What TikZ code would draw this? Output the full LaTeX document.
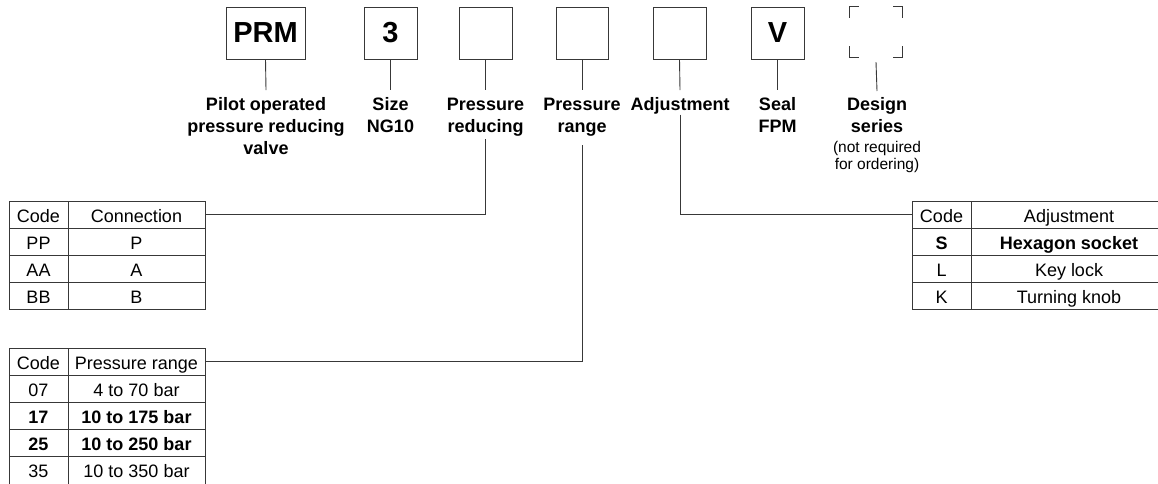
\documentclass[tikz,border=0pt]{standalone}
\usepackage{fontspec}
\setmainfont{Liberation Sans}
\definecolor{lncol}{gray}{0.22}
\begin{document}
\begin{tikzpicture}[x=1pt,y=-1pt,
  ln/.style={draw=lncol, line width=0.9pt},
  codebox/.style={ln, rectangle, inner sep=0pt, minimum height=52pt, font=\fontsize{29}{33}\selectfont\bfseries},
  lbl/.style={anchor=north, inner sep=0pt, align=center, font=\fontsize{18}{22}\selectfont\bfseries},
  note/.style={anchor=north, inner sep=0pt, align=center, font=\fontsize{15.5}{17}\selectfont},
  cell/.style={ln, rectangle, inner sep=0pt, text height=15pt, text depth=0pt, font=\fontsize{18}{22}\selectfont},
  bcell/.style={cell, font=\fontsize{18}{22}\selectfont\bfseries},
  conn/.style={draw=lncol, line width=0.9pt}
]
\useasboundingbox (0,0) rectangle (1158,483);

% code boxes
\node[codebox, minimum width=79pt] (bPRM) at (265.5,33) {PRM};
\node[codebox, minimum width=53pt] (b3) at (390.5,33) {3};
\node[codebox, minimum width=53pt] (bRed) at (485.5,33) {};
\node[codebox, minimum width=52pt] (bRng) at (582,33) {};
\node[codebox, minimum width=53pt] (bAdj) at (679.5,33) {};
\node[codebox, minimum width=53pt] (bV) at (777.5,33) {V};
\node[inner sep=0pt, minimum width=52pt, minimum height=50pt] (bDes) at (876,32) {};
\draw[conn] ([yshift=-11pt]bDes.north west) -- (bDes.north west) -- ([xshift=9pt]bDes.north west);
\draw[conn] ([yshift=-11pt]bDes.north east) -- (bDes.north east) -- ([xshift=-9pt]bDes.north east);
\draw[conn] ([yshift=11pt]bDes.south west) -- (bDes.south west) -- ([xshift=9pt]bDes.south west);
\draw[conn] ([yshift=11pt]bDes.south east) -- (bDes.south east) -- ([xshift=-9pt]bDes.south east);

% labels
\node[lbl] (lPRM) at (266,97.5) {Pilot operated\\pressure reducing\\valve};
\node[lbl] (l3) at (390.5,97.5) {Size\\NG10};
\node[lbl] (lRed) at (485.5,97.5) {Pressure\\reducing};
\node[lbl] (lRng) at (582,97.5) {Pressure\\range};
\node[lbl] (lAdj) at (680,97.5) {Adjustment};
\node[lbl] (lV) at (777.5,97.5) {Seal\\FPM};
\node[lbl] (lDes) at (877,97.5) {Design\\series};
\node[note] (lDesN) at (877,141.4) {(not required\\for ordering)};

% box-to-label lines
\draw[conn] (bPRM.south) -- ([yshift=7.5pt]lPRM.north);
\draw[conn] (b3.south) -- ([yshift=7.5pt]l3.north);
\draw[conn] (bRed.south) -- ([yshift=7.5pt]lRed.north);
\draw[conn] (bRng.south) -- ([yshift=7.5pt]lRng.north);
\draw[conn] (bAdj.south) -- ([yshift=7.5pt]lAdj.north);
\draw[conn] (bV.south) -- ([yshift=7.5pt]lV.north);
\draw[conn] ([yshift=-5pt]bDes.south) -- ([yshift=6.5pt]lDes.north);

% table 1: connection
\begin{scope}[every node/.append style={minimum height=27pt}]
\node[cell, minimum width=59pt] (t1h1) at (38.5,214.5) {Code};
\node[cell, minimum width=137pt] (t1h2) at (136.5,214.5) {Connection};
\node[cell, minimum width=59pt] (t1a1) at (38.5,241.5) {PP};
\node[cell, minimum width=137pt] (t1a2) at (136.5,241.5) {P};
\node[cell, minimum width=59pt] (t1b1) at (38.5,268.5) {AA};
\node[cell, minimum width=137pt] (t1b2) at (136.5,268.5) {A};
\node[cell, minimum width=59pt] (t1c1) at (38.5,295.5) {BB};
\node[cell, minimum width=137pt] (t1c2) at (136.5,295.5) {B};
\end{scope}

% table 2: pressure range
\begin{scope}[every node/.append style={minimum height=27.2pt}]
\node[cell, minimum width=59pt] (t2h1) at (38.5,361.6) {Code};
\node[cell, minimum width=137pt] (t2h2) at (136.5,361.6) {Pressure range};
\node[cell, minimum width=59pt] (t2a1) at (38.5,388.8) {07};
\node[cell, minimum width=137pt] (t2a2) at (136.5,388.8) {4 to 70 bar};
\node[bcell, minimum width=59pt] (t2b1) at (38.5,416) {17};
\node[bcell, minimum width=137pt] (t2b2) at (136.5,416) {10 to 175 bar};
\node[bcell, minimum width=59pt] (t2c1) at (38.5,443.2) {25};
\node[bcell, minimum width=137pt] (t2c2) at (136.5,443.2) {10 to 250 bar};
\node[cell, minimum width=59pt] (t2d1) at (38.5,470.4) {35};
\node[cell, minimum width=137pt] (t2d2) at (136.5,470.4) {10 to 350 bar};
\end{scope}

% table 3: adjustment
\begin{scope}[every node/.append style={minimum height=27pt}]
\node[cell, minimum width=59pt] (t3h1) at (941.5,214.5) {Code};
\node[cell, minimum width=196pt] (t3h2) at (1069,214.5) {Adjustment};
\node[bcell, minimum width=59pt] (t3a1) at (941.5,241.5) {S};
\node[bcell, minimum width=196pt] (t3a2) at (1069,241.5) {Hexagon socket};
\node[cell, minimum width=59pt] (t3b1) at (941.5,268.5) {L};
\node[cell, minimum width=196pt] (t3b2) at (1069,268.5) {Key lock};
\node[cell, minimum width=59pt] (t3c1) at (941.5,295.5) {K};
\node[cell, minimum width=196pt] (t3c2) at (1069,295.5) {Turning knob};
\end{scope}

% label-to-table connectors
\draw[conn] ([yshift=-3pt]lRed.south) |- (t1h2.east);
\draw[conn] ([yshift=-9pt]lRng.south) |- (t2h2.east);
\draw[conn] (lAdj.south) |- (t3h1.west);
\end{tikzpicture}
\end{document}
